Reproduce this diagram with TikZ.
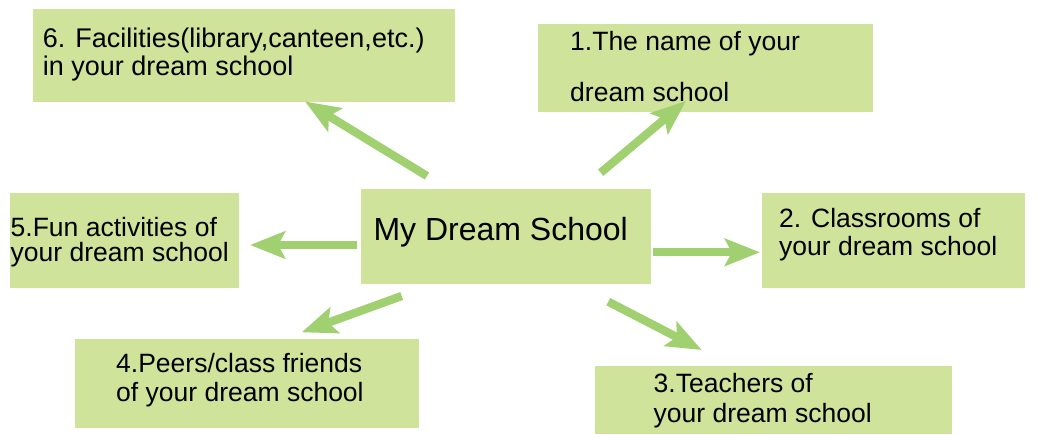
\documentclass[tikz,border=0pt]{standalone}
\usepackage{fontspec}
\setmainfont{Liberation Sans}
\usetikzlibrary{arrows.meta,positioning}
\definecolor{boxgreen}{RGB}{208,227,154}
\definecolor{arrowgreen}{RGB}{160,208,112}
\tikzset{
  box/.style={fill=boxgreen, inner sep=0pt, anchor=north west},
  txt/.style={inner sep=0pt, anchor=base west, font=\fontsize{26.5}{30}\selectfont},
  arr/.style={draw=arrowgreen, line width=8.3pt, -{Stealth[length=35pt,width=27pt,inset=7pt]}}
}

\begin{document}
\begin{tikzpicture}[x=1pt,y=-1pt]
			\useasboundingbox (0,0) rectangle (1054,435);
			% boxes
			\node[box, minimum width=422, minimum height=93] (facilities) at (33,9) {};
			\node[box, minimum width=335, minimum height=88] (name) at (538,24) {};
			\node[box, minimum width=290, minimum height=95] (dream) at (361,189) {};
			\node[box, minimum width=263, minimum height=95] (classrooms) at (762,193) {};
			\node[box, minimum width=357, minimum height=68] (teachers) at (595,366) {};
			\node[box, minimum width=344, minimum height=89] (peers) at (75,339) {};
			\node[box, minimum width=229, minimum height=95] (fun) at (10,193) {};
			% texts
			\node[txt, font=\fontsize{32}{36}\selectfont] (dreamtxt) at (373.3,241) {My Dream School};
			\node[txt, font=\fontsize{27}{30}\selectfont] (facilitiesa) at (42.7,48) {6. Facilities(library,canteen,etc.)};
			\node[txt, font=\fontsize{27}{30}\selectfont] (facilitiesb) at (42.7,75.5) {in your dream school};
			\node[txt] (namea) at (570,50.7) {1.The name of your};
			\node[txt] (nameb) at (570,101.7) {dream school};
			\node[txt] (classroomsa) at (779,228) {2. Classrooms of};
			\node[txt] (classroomsb) at (779,256) {your dream school};
			\node[txt] (teachersa) at (653.5,392.3) {3.Teachers of};
			\node[txt] (teachersb) at (653.5,422) {your dream school};
			\node[txt] (peersa) at (116,372.7) {4.Peers/class friends};
			\node[txt] (peersb) at (116,401.7) {of your dream school};
			\node[txt] (funa) at (10.5,236.7) {5.Fun activities of};
			\node[txt] (funb) at (10.5,262) {your dream school};
			% arrows
			\coordinate (tofacilities) at (427,176);
			\coordinate (toname) at (600.7,172.7);
			\coordinate (toclassrooms) at (653,252.3);
			\coordinate (toteachers) at (608.3,301.7);
			\coordinate (topeers) at (401.7,296);
			\coordinate (tofun) at (357.3,245);
			\coordinate (facilitiestip) at (305,101.5);
			\coordinate (nametip) at (686,101);
			\coordinate (classroomstip) at (760,252.3);
			\coordinate (teacherstip) at (701.7,350);
			\coordinate (peerstip) at (301.7,332.3);
			\coordinate (funtip) at (250,245);
			\draw[arr] (tofacilities) -- (facilitiestip);
			\draw[arr] (toname) -- (nametip);
			\draw[arr] (toclassrooms) -- (classroomstip);
			\draw[arr] (toteachers) -- (teacherstip);
			\draw[arr] (topeers) -- (peerstip);
			\draw[arr] (tofun) -- (funtip);
\end{tikzpicture}
\end{document}
